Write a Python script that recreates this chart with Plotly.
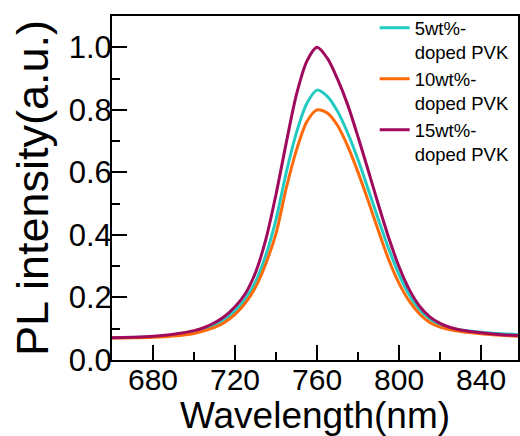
import plotly.graph_objects as go

wavelength = [660, 670, 680, 690, 700, 705, 710, 715, 720, 725, 730, 735, 740, 745, 750, 755,
              760, 765, 770, 775, 780, 785, 790, 795, 800, 805, 810, 815, 820, 825, 830, 840,
              850, 858]

pl_5wt = [0.071, 0.072, 0.074, 0.079, 0.089, 0.098, 0.111, 0.130, 0.157, 0.195, 0.250, 0.335,
          0.450, 0.600, 0.728, 0.820, 0.863, 0.843, 0.795, 0.725, 0.640, 0.545, 0.448, 0.355,
          0.273, 0.208, 0.161, 0.131, 0.113, 0.102, 0.096, 0.089, 0.084, 0.081]

pl_10wt = [0.070, 0.071, 0.073, 0.077, 0.085, 0.093, 0.104, 0.121, 0.146, 0.182, 0.233, 0.308,
           0.405, 0.550, 0.672, 0.762, 0.800, 0.790, 0.750, 0.683, 0.600, 0.508, 0.412, 0.320,
           0.245, 0.188, 0.147, 0.120, 0.105, 0.097, 0.091, 0.084, 0.079, 0.076]

pl_15wt = [0.071, 0.073, 0.076, 0.082, 0.094, 0.104, 0.119, 0.140, 0.170, 0.212, 0.280, 0.385,
           0.530, 0.695, 0.850, 0.955, 1.000, 0.965, 0.898, 0.815, 0.713, 0.605, 0.495, 0.390,
           0.298, 0.225, 0.172, 0.138, 0.117, 0.104, 0.096, 0.087, 0.081, 0.078]

names = ["5wt%-<br>doped PVK", "10wt%-<br>doped PVK", "15wt%-<br>doped PVK"]
colors = ["#22CBC2", "#FF6A0A", "#A00A5C"]
series = [pl_5wt, pl_10wt, pl_15wt]

fig = go.Figure()
for name, col, ys in zip(names, colors, series):
    fig.add_trace(go.Scatter(x=wavelength, y=ys, mode="lines", name=name,
                             line=dict(color=col, width=3, shape="spline", smoothing=0.8)))

font_family = "Liberation Sans, Arial, sans-serif"

fig.update_layout(
    width=520, height=436,
    margin=dict(l=112, r=2, t=16, b=76, autoexpand=False),
    paper_bgcolor="white", plot_bgcolor="white",
    font=dict(family=font_family, color="black"),
    showlegend=True,
    legend=dict(x=0.647, y=1.02, xanchor="left", yanchor="top", bgcolor="rgba(0,0,0,0)",
                font=dict(size=18.5, color="black"), valign="top", tracegroupgap=0,
                itemwidth=30),
)

fig.update_xaxes(
    range=[660, 858], tick0=680, dtick=40, ticks="inside", ticklen=15, tickwidth=2,
    tickcolor="black", showline=True, linewidth=2, linecolor="black", mirror=True,
    showgrid=False, zeroline=False, tickfont=dict(size=30), automargin=False,
    ticklabelstandoff=-8,
    minor=dict(dtick=20, tick0=680, ticks="inside", ticklen=8, tickwidth=2, tickcolor="black"),
    title=dict(text="Wavelength(nm)", font=dict(size=37), standoff=0),
)
fig.update_yaxes(
    range=[0, 1.1], tick0=0, dtick=0.2, tickformat=".1f", ticks="inside", ticklen=15,
    tickwidth=2, tickcolor="black", showline=True, linewidth=2, linecolor="black",
    mirror=True, showgrid=False, zeroline=False, tickfont=dict(size=31), automargin=False,
    ticklabelstandoff=-8,
    minor=dict(dtick=0.1, ticks="inside", ticklen=8, tickwidth=2, tickcolor="black"),
    title=dict(text="PL intensity(a.u.)", font=dict(size=45), standoff=6),
)

fig.write_html("out.html")
